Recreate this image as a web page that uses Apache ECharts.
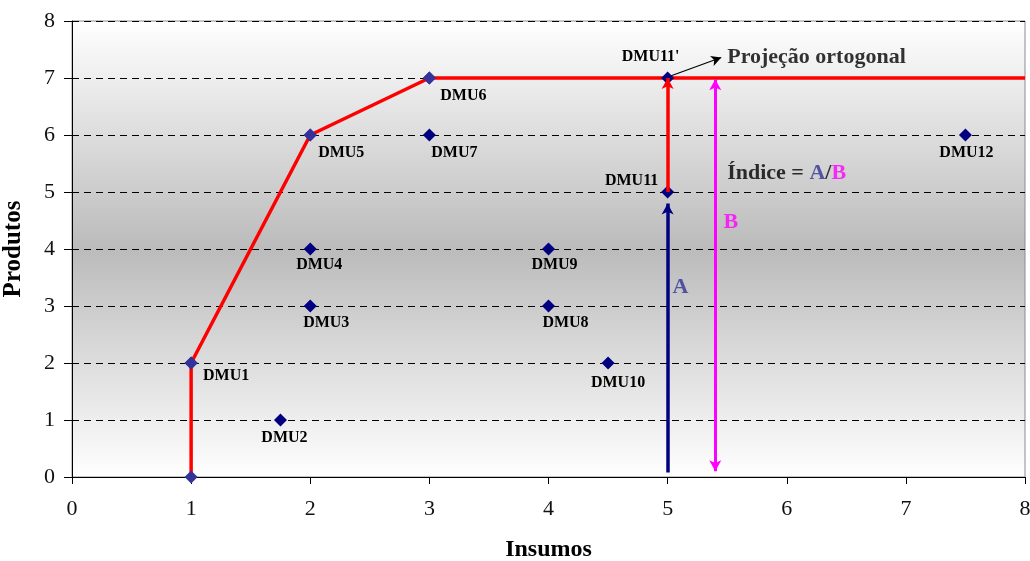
<!DOCTYPE html>
<html>
<head>
<meta charset="utf-8">
<script src="https://cdn.jsdelivr.net/npm/echarts@6/dist/echarts.min.js"></script>
<style>
html, body { margin: 0; padding: 0; background: #fff; }
#chart { width: 1030px; height: 561px; }
</style>
</head>
<body>
<div id="chart"></div>
<script>
// DMUs (insumos, produtos)
var dmuNames = ['DMU1', 'DMU2', 'DMU3', 'DMU4', 'DMU5', 'DMU6', 'DMU7', 'DMU8', 'DMU9', 'DMU10', 'DMU11', "DMU11'", 'DMU12'];
var dmuInsumos = [1, 1.75, 2, 2, 2, 3, 3, 4, 4, 4.5, 5, 5, 7.5];
var dmuProdutos = [2, 1, 3, 4, 6, 7, 6, 3, 4, 2, 5, 7, 6];

// fronteira eficiente
var fronteiraX = [1, 1, 2, 3, 8];
var fronteiraY = [0, 2, 6, 7, 7];

// setas: DMU11 -> DMU11', A e B
var setaProjecao = [[5, 5], [5, 7]];
var setaA = [[5, 0.08], [5, 4.8]];
var setaB = [[5.4, 0.1], [5.4, 6.98]];
var setaTexto = [[5.03, 7.04], [5.45, 7.36]];

var eixoTicks = [0, 1, 2, 3, 4, 5, 6, 7, 8];

// deslocamento dos rótulos (px)
var rotuloOffset = [[35, 13], [4, 18], [16, 17], [9, 16], [31, 18], [34, 18], [25, 18], [17, 17], [6, 16], [10, 20], [-36, -11], [-17, -21], [1, 18]];

var serif = "'Liberation Serif', 'Times New Roman', serif";

var chart = echarts.init(document.getElementById('chart'));

function naFronteira(x, y) {
    for (var k = 0; k < fronteiraX.length - 1; k++) {
        if (fronteiraX[k] === x && fronteiraY[k] === y) return true;
    }
    return false;
}

var dmuData = dmuNames.map(function (n, i) {
    var x = dmuInsumos[i], y = dmuProdutos[i];
    return {
        name: n,
        value: [x, y],
        itemStyle: { color: naFronteira(x, y) ? '#333399' : '#000080' },
        label: { offset: rotuloOffset[i] }
    };
});

var fronteiraData = fronteiraX.map(function (x, i) {
    var item = { value: [x, fronteiraY[i]] };
    if (i === fronteiraX.length - 1) item.symbol = 'none';
    return item;
});

function linha(par) {
    return [{ coord: par[0] }, { coord: par[1] }];
}

var option = {
    animation: false,
    grid: {
        left: 72, right: 5, top: 21, bottom: 84,
        outerBoundsMode: 'none',
        containLabel: false,
        show: true,
        borderColor: '#8c8c8c',
        borderWidth: 1,
        backgroundColor: new echarts.graphic.LinearGradient(0, 0, 0, 1, [
            { offset: 0, color: '#ffffff' },
            { offset: 0.5, color: '#bbbbbb' },
            { offset: 1, color: '#ffffff' }
        ])
    },
    xAxis: {
        type: 'value',
        min: eixoTicks[0], max: eixoTicks[eixoTicks.length - 1], interval: 1,
        name: 'Insumos',
        nameLocation: 'middle',
        nameGap: 61,
        nameTextStyle: { fontFamily: serif, fontWeight: 'bold', fontSize: 24, color: '#000' },
        axisLine: { lineStyle: { color: '#000', width: 1 } },
        axisTick: { show: true, length: 7, lineStyle: { color: '#000' } },
        axisLabel: { fontFamily: serif, fontSize: 22, color: '#111', margin: 21 },
        splitLine: { show: false }
    },
    yAxis: {
        type: 'value',
        min: eixoTicks[0], max: eixoTicks[eixoTicks.length - 1], interval: 1,
        name: 'Produtos',
        nameLocation: 'middle',
        nameGap: 46,
        nameTextStyle: { fontFamily: serif, fontWeight: 'bold', fontSize: 25, color: '#000' },
        axisLine: { show: true, lineStyle: { color: '#000', width: 1 } },
        axisTick: { show: true, length: 8, lineStyle: { color: '#000' } },
        axisLabel: { fontFamily: serif, fontSize: 22, color: '#111', margin: 17 },
        splitLine: { show: true, lineStyle: { color: '#000', type: [7, 5], width: 1 } }
    },
    series: [
        {
            name: 'Fronteira',
            type: 'line',
            data: fronteiraData,
            symbol: 'diamond',
            symbolSize: 13,
            showAllSymbol: true,
            lineStyle: { color: '#ff0000', width: 3.5 },
            itemStyle: { color: '#333399' },
            z: 2,
            markLine: {
                silent: true,
                label: { show: false },
                data: [linha(setaProjecao)],
                symbol: ['none', 'arrow'],
                symbolSize: [9, 11],
                lineStyle: { color: '#ff0000', width: 3.5, type: 'solid' }
            }
        },
        {
            name: 'A',
            type: 'line',
            data: [],
            markLine: {
                silent: true,
                label: { show: false },
                data: [linha(setaA)],
                symbol: ['none', 'arrow'],
                symbolSize: [9, 11],
                lineStyle: { color: '#000080', width: 3.5, type: 'solid' }
            }
        },
        {
            name: 'B',
            type: 'line',
            data: [],
            markLine: {
                silent: true,
                label: { show: false },
                data: [linha(setaB)],
                symbol: ['arrow', 'arrow'],
                symbolSize: [9, 11],
                lineStyle: { color: '#ff00ff', width: 3, type: 'solid' }
            }
        },
        {
            name: 'Projecao',
            type: 'line',
            data: [],
            markLine: {
                silent: true,
                label: { show: false },
                data: [linha(setaTexto)],
                symbol: ['none', 'arrow'],
                symbolSize: [8, 10],
                lineStyle: { color: '#000', width: 1.2, type: 'solid' }
            }
        },
        {
            name: 'DMUs',
            type: 'scatter',
            symbol: 'diamond',
            symbolSize: 13,
            itemStyle: { opacity: 1 },
            data: dmuData,
            label: {
                show: true,
                position: 'inside',
                formatter: '{b}',
                fontFamily: serif,
                fontWeight: 'bold',
                fontSize: 16,
                color: '#000',
                textBorderWidth: 0
            },
            z: 4
        },
        {
            name: 'Textos',
            type: 'scatter',
            symbolSize: 0,
            silent: true,
            z: 5,
            label: {
                show: true,
                position: 'right',
                distance: 0,
                fontFamily: serif,
                fontWeight: 'bold',
                fontSize: 22,
                textBorderWidth: 0
            },
            data: [
                { value: [5.5, 7.37], label: { formatter: 'Projeção ortogonal', color: '#000' } },
                { value: [5.5, 5.33], label: { formatter: 'Índice = {a|A}/{b|B}', color: '#000',
                    rich: {
                        a: { color: '#333399', fontFamily: serif, fontWeight: 'bold', fontSize: 22 },
                        b: { color: '#ff00ff', fontFamily: serif, fontWeight: 'bold', fontSize: 22 }
                    } } },
                { value: [5.04, 3.32], label: { formatter: 'A', color: '#333399' } },
                { value: [5.47, 4.46], label: { formatter: 'B', color: '#ff00ff' } }
            ]
        }
    ]
};

chart.setOption(option);
</script>
</body>
</html>
